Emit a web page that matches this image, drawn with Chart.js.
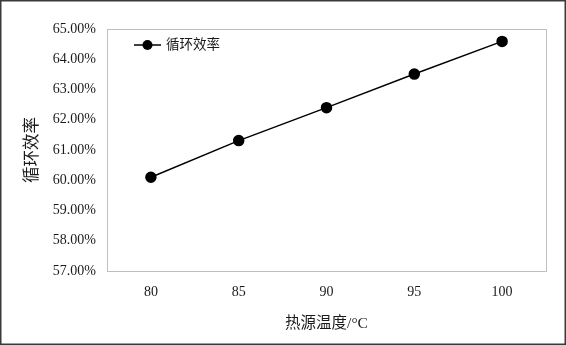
<!DOCTYPE html>
<html>
<head>
<meta charset="utf-8">
<script src="https://cdn.jsdelivr.net/npm/chart.js@4/dist/chart.umd.min.js"></script>
<style>
  html, body { margin: 0; padding: 0; background: #fff; }
  #wrap { position: relative; width: 566px; height: 345px; }
  canvas { display: block; }
</style>
</head>
<body>
<div id="wrap"><canvas id="c" width="566" height="345"></canvas></div>
<script>
// Data
const categories = ['80', '85', '90', '95', '100'];
const efficiency = [60.10, 61.31, 62.40, 63.51, 64.59];
const seriesName = '循环效率';
const xTitle = '热源温度/°C';
const yTitle = '循环效率';
const yMin = 57, yMax = 65, yStep = 1;

const FONT = '"Liberation Serif", "Times New Roman", "Noto Sans CJK SC", serif';
const TXT = '#1a1a1a';

const framePlugin = {
  id: 'frame',
  beforeDraw(chart) {
    const ctx = chart.ctx;
    ctx.save();
    ctx.fillStyle = '#ffffff';
    ctx.fillRect(0, 0, chart.width, chart.height);
    ctx.restore();
  },
  beforeDatasetsDraw(chart) {
    const {ctx, chartArea: a} = chart;
    ctx.save();
    ctx.strokeStyle = '#bfbfbf';
    ctx.lineWidth = 1;
    ctx.strokeRect(Math.round(a.left) + 0.5, Math.round(a.top) + 0.5,
                   Math.round(a.right - a.left), Math.round(a.bottom - a.top));
    ctx.restore();
  },
  afterDraw(chart) {
    const {ctx, chartArea: a} = chart;
    ctx.save();
    // outer border
    ctx.strokeStyle = '#3a3a3a';
    ctx.lineWidth = 1.5;
    ctx.strokeRect(0.75, 0.75, chart.width - 1.5, chart.height - 1.5);
    // legend inside plot area
    const ds = chart.data.datasets[0];
    const lx = a.left + 27, ly = a.top + 16;
    ctx.strokeStyle = ds.borderColor;
    ctx.lineWidth = ds.borderWidth;
    ctx.beginPath();
    ctx.moveTo(lx, ly);
    ctx.lineTo(lx + 27, ly);
    ctx.stroke();
    ctx.fillStyle = ds.pointBackgroundColor;
    ctx.beginPath();
    ctx.arc(lx + 13.5, ly, 5, 0, Math.PI * 2);
    ctx.fill();
    ctx.fillStyle = TXT;
    ctx.font = '13.5px ' + FONT;
    ctx.textBaseline = 'middle';
    ctx.textAlign = 'left';
    ctx.fillText(ds.label, lx + 32, ly);
    ctx.restore();
  }
};

new Chart(document.getElementById('c'), {
  type: 'line',
  data: {
    labels: categories,
    datasets: [{
      label: seriesName,
      data: efficiency,
      borderColor: '#000000',
      backgroundColor: '#000000',
      pointBackgroundColor: '#000000',
      pointBorderColor: '#000000',
      borderWidth: 1.5,
      pointRadius: 5,
      pointHoverRadius: 5,
      tension: 0,
      fill: false
    }]
  },
  options: {
    responsive: false,
    animation: false,
    devicePixelRatio: 1,
    layout: { padding: { left: 0, right: 20, top: 29, bottom: 0 } },
    plugins: {
      legend: { display: false },
      tooltip: { enabled: false }
    },
    scales: {
      x: {
        type: 'category',
        offset: true,
        grid: { display: false, drawTicks: false },
        border: { display: false },
        ticks: { color: TXT, font: { family: FONT, size: 14 }, padding: 13, maxRotation: 0 },
        title: { display: true, text: xTitle, color: TXT, font: { family: FONT, size: 15.5 }, padding: { top: 0, bottom: 12 } },
        afterFit(scale) { scale.height = 74; }
      },
      y: {
        min: yMin, max: yMax,
        grid: { display: false, drawTicks: false },
        border: { display: false },
        ticks: {
          stepSize: yStep,
          color: TXT,
          font: { family: FONT, size: 14 },
          padding: 11,
          callback: v => v.toFixed(2) + '%'
        },
        title: { display: true, text: yTitle, color: TXT, font: { family: FONT, size: 16.5 }, padding: { top: 23, bottom: 0 } },
        afterFit(scale) { scale.width = 107; }
      }
    }
  },
  plugins: [framePlugin]
});
</script>
</body>
</html>
